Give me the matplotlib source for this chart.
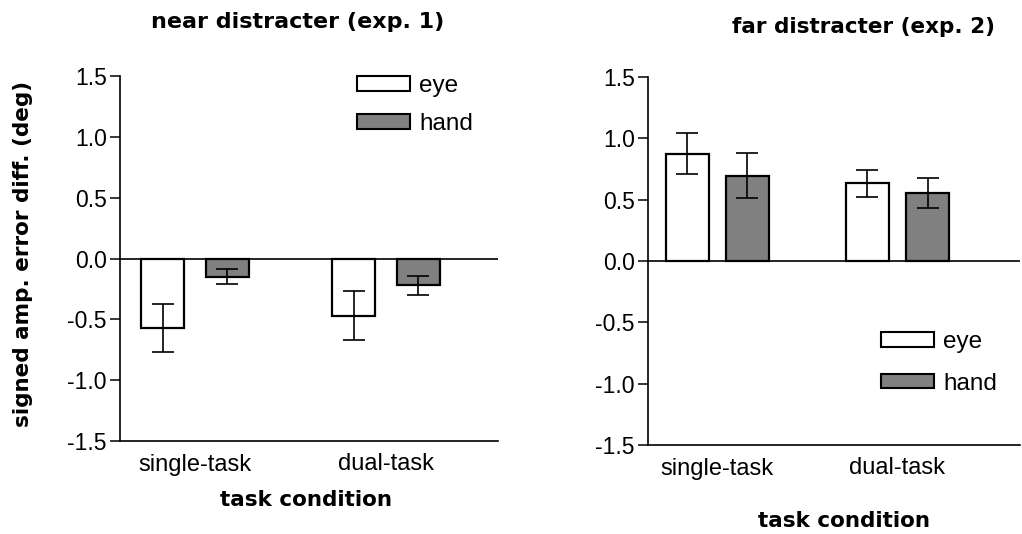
import matplotlib
matplotlib.use("Agg")
import matplotlib.pyplot as plt
import numpy as np
from matplotlib.patches import Patch

# data
conditions = ["single-task", "dual-task"]
near_eye = [-0.57, -0.47]
near_eye_err = [0.20, 0.20]
near_hand = [-0.15, -0.22]
near_hand_err = [0.06, 0.08]
far_eye = [0.875, 0.635]
far_eye_err = [0.165, 0.11]
far_hand = [0.695, 0.555]
far_hand_err = [0.185, 0.125]
yticks = [-1.5, -1.0, -0.5, 0.0, 0.5, 1.0, 1.5]

plt.rcParams["font.family"] = ["Liberation Sans", "DejaVu Sans"]
BOLD = dict(family="DejaVu Sans", fontweight="bold")
GRAY = "#808080"

fig = plt.figure(figsize=(10.22, 5.34), dpi=100)
W, H = 1022, 534


def panel(rect, eye, eye_err, hand, hand_err, width, off, xlim):
    ax = fig.add_axes(rect)
    x = np.arange(len(conditions))
    ek = dict(ecolor="black", elinewidth=1.2, capsize=8, capthick=1.2)
    ax.bar(x - off, eye, width, yerr=eye_err, color="white", edgecolor="black",
           linewidth=1.6, error_kw=ek, zorder=3)
    ax.bar(x + off, hand, width, yerr=hand_err, color=GRAY, edgecolor="black",
           linewidth=1.6, error_kw=ek, zorder=3)
    ax.axhline(0, color="black", lw=1.2, zorder=2)
    ax.set_ylim(-1.5, 1.5)
    ax.set_xlim(*xlim)
    ax.set_yticks(yticks)
    ax.set_yticklabels(["%.1f" % v for v in yticks], fontsize=16.5)
    ax.set_xticks(x)
    ax.set_xticklabels(conditions, fontsize=17)
    ax.tick_params(axis="x", length=0, pad=9)
    ax.tick_params(axis="y", length=7.5, width=1.1, pad=2)
    for s in ("top", "right"):
        ax.spines[s].set_visible(False)
    for s in ("left", "bottom"):
        ax.spines[s].set_linewidth(1.2)
    return ax


ax1 = panel([120 / W, (H - 441) / H, 378 / W, 365 / H],
            near_eye, near_eye_err, near_hand, near_hand_err,
            0.225, 0.168, (-0.393, 1.586))
ax2 = panel([648 / W, (H - 445) / H, 372 / W, 368 / H],
            far_eye, far_eye_err, far_hand, far_hand_err,
            0.239, 0.167, (-0.384, 1.68))

handles = [Patch(facecolor="white", edgecolor="black", linewidth=1.5),
           Patch(facecolor=GRAY, edgecolor="black", linewidth=1.5)]
leg_kw = dict(frameon=False, fontsize=17.5, handlelength=2.2, handleheight=0.55,
              handletextpad=0.35, borderpad=0, borderaxespad=0, loc="center left")
fig.legend(handles, ["eye", "hand"], bbox_to_anchor=(357 / W, 1 - 105 / H),
           labelspacing=0.65, **leg_kw)
fig.legend(handles, ["eye", "hand"], bbox_to_anchor=(881 / W, 1 - 363 / H),
           labelspacing=0.8, **leg_kw)

fig.text(298 / W, 1 - 22 / H, "near distracter (exp. 1)", ha="center", va="center",
         fontsize=16, **BOLD)
fig.text(864 / W, 1 - 27 / H, "far distracter (exp. 2)", ha="center", va="center",
         fontsize=15.5, **BOLD)
fig.text(306 / W, 1 - 500 / H, "task condition", ha="center", va="center",
         fontsize=15.5, **BOLD)
fig.text(844 / W, 1 - 521 / H, "task condition", ha="center", va="center",
         fontsize=15.5, **BOLD)
fig.text(23 / W, 1 - 254 / H, "signed amp. error diff. (deg)", ha="center", va="center",
         rotation=90, fontsize=15.5, **BOLD)

fig.savefig("out.png", dpi=100)
